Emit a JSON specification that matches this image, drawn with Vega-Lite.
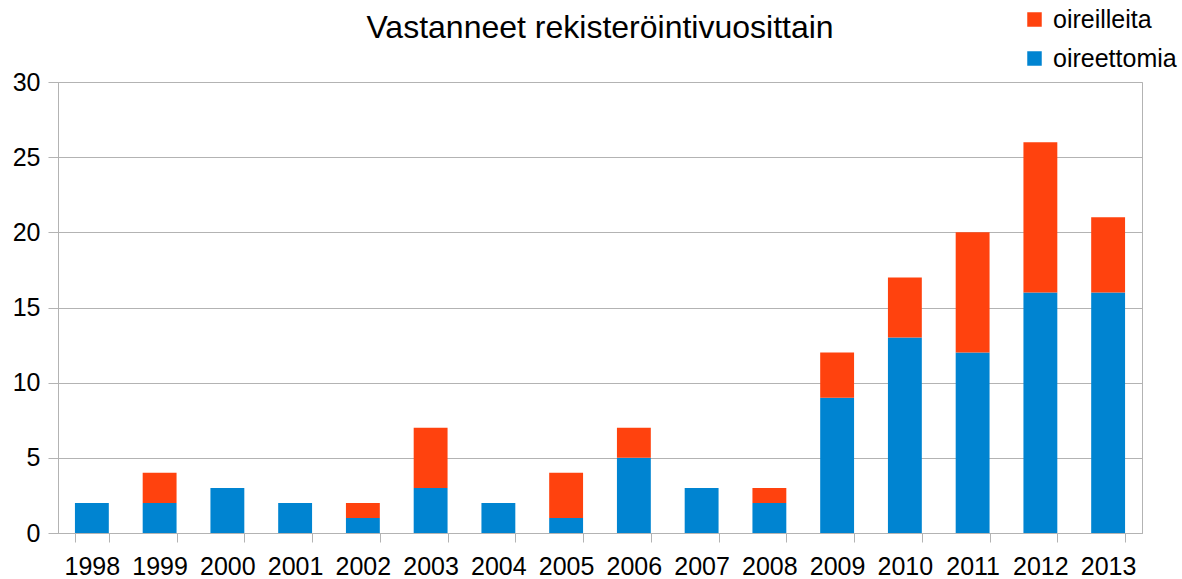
{
  "$schema": "https://vega.github.io/schema/vega-lite/v6.json",
  "width": 1084,
  "height": 451,
  "autosize": {"type": "none"},
  "padding": {"left": 58, "top": 82, "right": 40, "bottom": 46},
  "background": "white",
  "config": {
    "font": "Liberation Sans",
    "view": {"stroke": "#b3b3b3", "strokeWidth": 1},
    "axis": {
      "domainColor": "#b3b3b3",
      "tickColor": "#b3b3b3",
      "gridColor": "#b3b3b3",
      "labelColor": "black",
      "labelFont": "Liberation Sans",
      "labelFontSize": 25
    }
  },
  "title": {
    "text": "Vastanneet rekisteröintivuosittain",
    "fontSize": 32,
    "fontWeight": "normal",
    "font": "Liberation Sans",
    "color": "black",
    "anchor": "middle",
    "frame": "group",
    "offset": -38
  },
  "data": {
    "values": [
      {"year": "1998", "series": "oireettomia", "count": 2},
      {"year": "1998", "series": "oireilleita", "count": 0},
      {"year": "1999", "series": "oireettomia", "count": 2},
      {"year": "1999", "series": "oireilleita", "count": 2},
      {"year": "2000", "series": "oireettomia", "count": 3},
      {"year": "2000", "series": "oireilleita", "count": 0},
      {"year": "2001", "series": "oireettomia", "count": 2},
      {"year": "2001", "series": "oireilleita", "count": 0},
      {"year": "2002", "series": "oireettomia", "count": 1},
      {"year": "2002", "series": "oireilleita", "count": 1},
      {"year": "2003", "series": "oireettomia", "count": 3},
      {"year": "2003", "series": "oireilleita", "count": 4},
      {"year": "2004", "series": "oireettomia", "count": 2},
      {"year": "2004", "series": "oireilleita", "count": 0},
      {"year": "2005", "series": "oireettomia", "count": 1},
      {"year": "2005", "series": "oireilleita", "count": 3},
      {"year": "2006", "series": "oireettomia", "count": 5},
      {"year": "2006", "series": "oireilleita", "count": 2},
      {"year": "2007", "series": "oireettomia", "count": 3},
      {"year": "2007", "series": "oireilleita", "count": 0},
      {"year": "2008", "series": "oireettomia", "count": 2},
      {"year": "2008", "series": "oireilleita", "count": 1},
      {"year": "2009", "series": "oireettomia", "count": 9},
      {"year": "2009", "series": "oireilleita", "count": 3},
      {"year": "2010", "series": "oireettomia", "count": 13},
      {"year": "2010", "series": "oireilleita", "count": 4},
      {"year": "2011", "series": "oireettomia", "count": 12},
      {"year": "2011", "series": "oireilleita", "count": 8},
      {"year": "2012", "series": "oireettomia", "count": 16},
      {"year": "2012", "series": "oireilleita", "count": 10},
      {"year": "2013", "series": "oireettomia", "count": 16},
      {"year": "2013", "series": "oireilleita", "count": 5}
    ]
  },
  "mark": {"type": "bar"},
  "encoding": {
    "x": {
      "field": "year",
      "type": "ordinal",
      "scale": {"paddingInner": 0.5, "paddingOuter": 0.25},
      "axis": {
        "title": null,
        "labelAngle": 0,
        "tickBand": "extent",
        "tickSize": 9,
        "labelPadding": 12,
        "grid": false
      }
    },
    "y": {
      "field": "count",
      "type": "quantitative",
      "stack": "zero",
      "scale": {"domain": [0, 30], "nice": false},
      "axis": {
        "title": null,
        "values": [0, 5, 10, 15, 20, 25, 30],
        "tickSize": 10,
        "labelPadding": 8,
        "grid": true
      }
    },
    "color": {
      "field": "series",
      "type": "nominal",
      "scale": {"domain": ["oireilleita", "oireettomia"], "range": ["#ff420e", "#0084d1"]},
      "legend": {
        "title": null,
        "orient": "none",
        "legendX": 964,
        "legendY": -75,
        "symbolType": "square",
        "symbolSize": 210,
        "symbolStrokeWidth": 0,
        "labelFontSize": 25,
        "labelFont": "Liberation Sans",
        "labelColor": "black",
        "labelOffset": 6,
        "rowPadding": 13
      }
    },
    "order": {"field": "series", "sort": "ascending"}
  }
}
